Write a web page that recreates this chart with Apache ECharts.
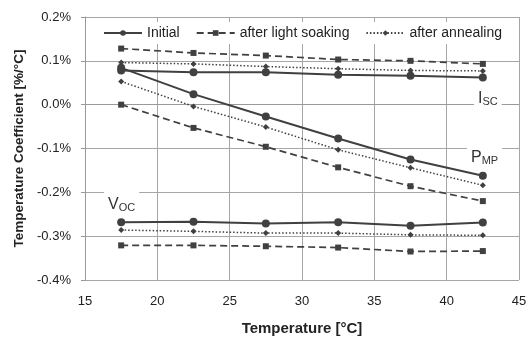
<!DOCTYPE html>
<html>
<head>
<meta charset="utf-8">
<script src="https://cdn.jsdelivr.net/npm/echarts@6/dist/echarts.min.js"></script>
<style>
  html, body { margin: 0; padding: 0; background: #fff; }
  #chart { width: 527px; height: 338px; }
</style>
</head>
<body>
<div id="chart"></div>
<script>
const temps = [17.5, 22.5, 27.5, 32.5, 37.5, 42.5];

// temperature coefficients in %/°C
const initialIsc = [0.078, 0.074, 0.074, 0.068, 0.066, 0.062];
const initialPmp = [0.084, 0.024, -0.027, -0.077, -0.125, -0.162];
const initialVoc = [-0.268, -0.267, -0.271, -0.268, -0.276, -0.269];

const soakIsc = [0.128, 0.118, 0.112, 0.103, 0.100, 0.093];
const soakPmp = [0.000, -0.053, -0.096, -0.143, -0.186, -0.220];
const soakVoc = [-0.321, -0.321, -0.323, -0.326, -0.335, -0.334];

const annealIsc = [0.096, 0.093, 0.087, 0.082, 0.078, 0.077];
const annealPmp = [0.053, -0.004, -0.051, -0.103, -0.144, -0.184];
const annealVoc = [-0.286, -0.289, -0.293, -0.293, -0.297, -0.298];

const yTicks = ['-0.4%', '-0.3%', '-0.2%', '-0.1%', '0.0%', '0.1%', '0.2%'];

const ink = '#404040';
const font = 'Liberation Sans, Arial, sans-serif';

function pairs(vals) {
  return temps.map((t, i) => [t, vals[i]]);
}

const kinds = {
  'Initial': { symbol: 'circle', size: 8, type: 'solid', width: 2 },
  'after light soaking': { symbol: 'rect', size: 6, type: [7, 4], width: 1.7 },
  'after annealing': { symbol: 'diamond', size: 6, type: [1.5, 2], width: 1.5 }
};

function mk(name, vals) {
  const k = kinds[name];
  return {
    name: name,
    type: 'line',
    data: pairs(vals),
    symbol: k.symbol,
    symbolSize: k.size,
    showAllSymbol: true,
    itemStyle: { color: ink },
    lineStyle: { color: ink, width: k.width, type: k.type },
    z: 3
  };
}

function sub(main, small, x, y) {
  return {
    type: 'text',
    left: x,
    top: y,
    z: 10,
    style: {
      text: '{n|' + main + '}{s|' + small + '}',
      backgroundColor: '#fff',
      padding: [3, 4, 3, 4],
      rich: {
        n: { fontFamily: font, fontSize: 16, fill: '#333', verticalAlign: 'bottom', lineHeight: 18 },
        s: { fontFamily: font, fontSize: 11, fill: '#333', verticalAlign: 'bottom', lineHeight: 14 }
      }
    }
  };
}

const chart = echarts.init(document.getElementById('chart'));
chart.setOption({
  animation: false,
  backgroundColor: '#fff',
  grid: { left: 85, right: 8, top: 17, bottom: 58, outerBoundsMode: 'none' },
  legend: {
    top: 22,
    left: 93,
    itemWidth: 38,
    itemHeight: 7,
    itemGap: 16,
    padding: [4, 10, 4, 10],
    backgroundColor: '#fff',
    textStyle: { fontFamily: font, fontSize: 14, color: '#222' },
    data: ['Initial', 'after light soaking', 'after annealing']
  },
  xAxis: {
    type: 'value',
    min: 15,
    max: 45,
    interval: 5,
    name: 'Temperature [°C]',
    nameLocation: 'middle',
    nameGap: 41,
    nameTextStyle: { fontFamily: font, fontSize: 15, fontWeight: 'bold', color: '#222' },
    axisLine: { show: true, lineStyle: { color: '#999' } },
    axisTick: { show: false },
    axisLabel: { fontFamily: font, fontSize: 13, color: '#222', margin: 15 },
    splitLine: { show: true, lineStyle: { color: '#a6a6a6', width: 1 } }
  },
  yAxis: {
    type: 'value',
    min: -0.4,
    max: 0.2,
    interval: 0.1,
    name: 'Temperature Coefficient [%/°C]',
    nameLocation: 'middle',
    nameGap: 59,
    nameTextStyle: { fontFamily: font, fontSize: 13.5, fontWeight: 'bold', color: '#222' },
    axisLine: { show: true, lineStyle: { color: '#999' } },
    axisTick: { show: true, inside: false, length: 4, lineStyle: { color: '#999' } },
    axisLabel: {
      fontFamily: font, fontSize: 13, color: '#222', margin: 14,
      formatter: v => yTicks[Math.round((v + 0.4) * 10)]
    },
    splitLine: { show: true, lineStyle: { color: '#a6a6a6', width: 1 } }
  },
  series: [
    mk('Initial', initialIsc),
    mk('Initial', initialPmp),
    mk('Initial', initialVoc),
    mk('after light soaking', soakIsc),
    mk('after light soaking', soakPmp),
    mk('after light soaking', soakVoc),
    mk('after annealing', annealIsc),
    mk('after annealing', annealPmp),
    mk('after annealing', annealVoc)
  ],
  graphic: [
    sub('I', 'SC', 474, 86),
    sub('P', 'MP', 467, 145),
    sub('V', 'OC', 104, 192)
  ]
});
window.addEventListener('resize', () => chart.resize());
</script>
</body>
</html>
